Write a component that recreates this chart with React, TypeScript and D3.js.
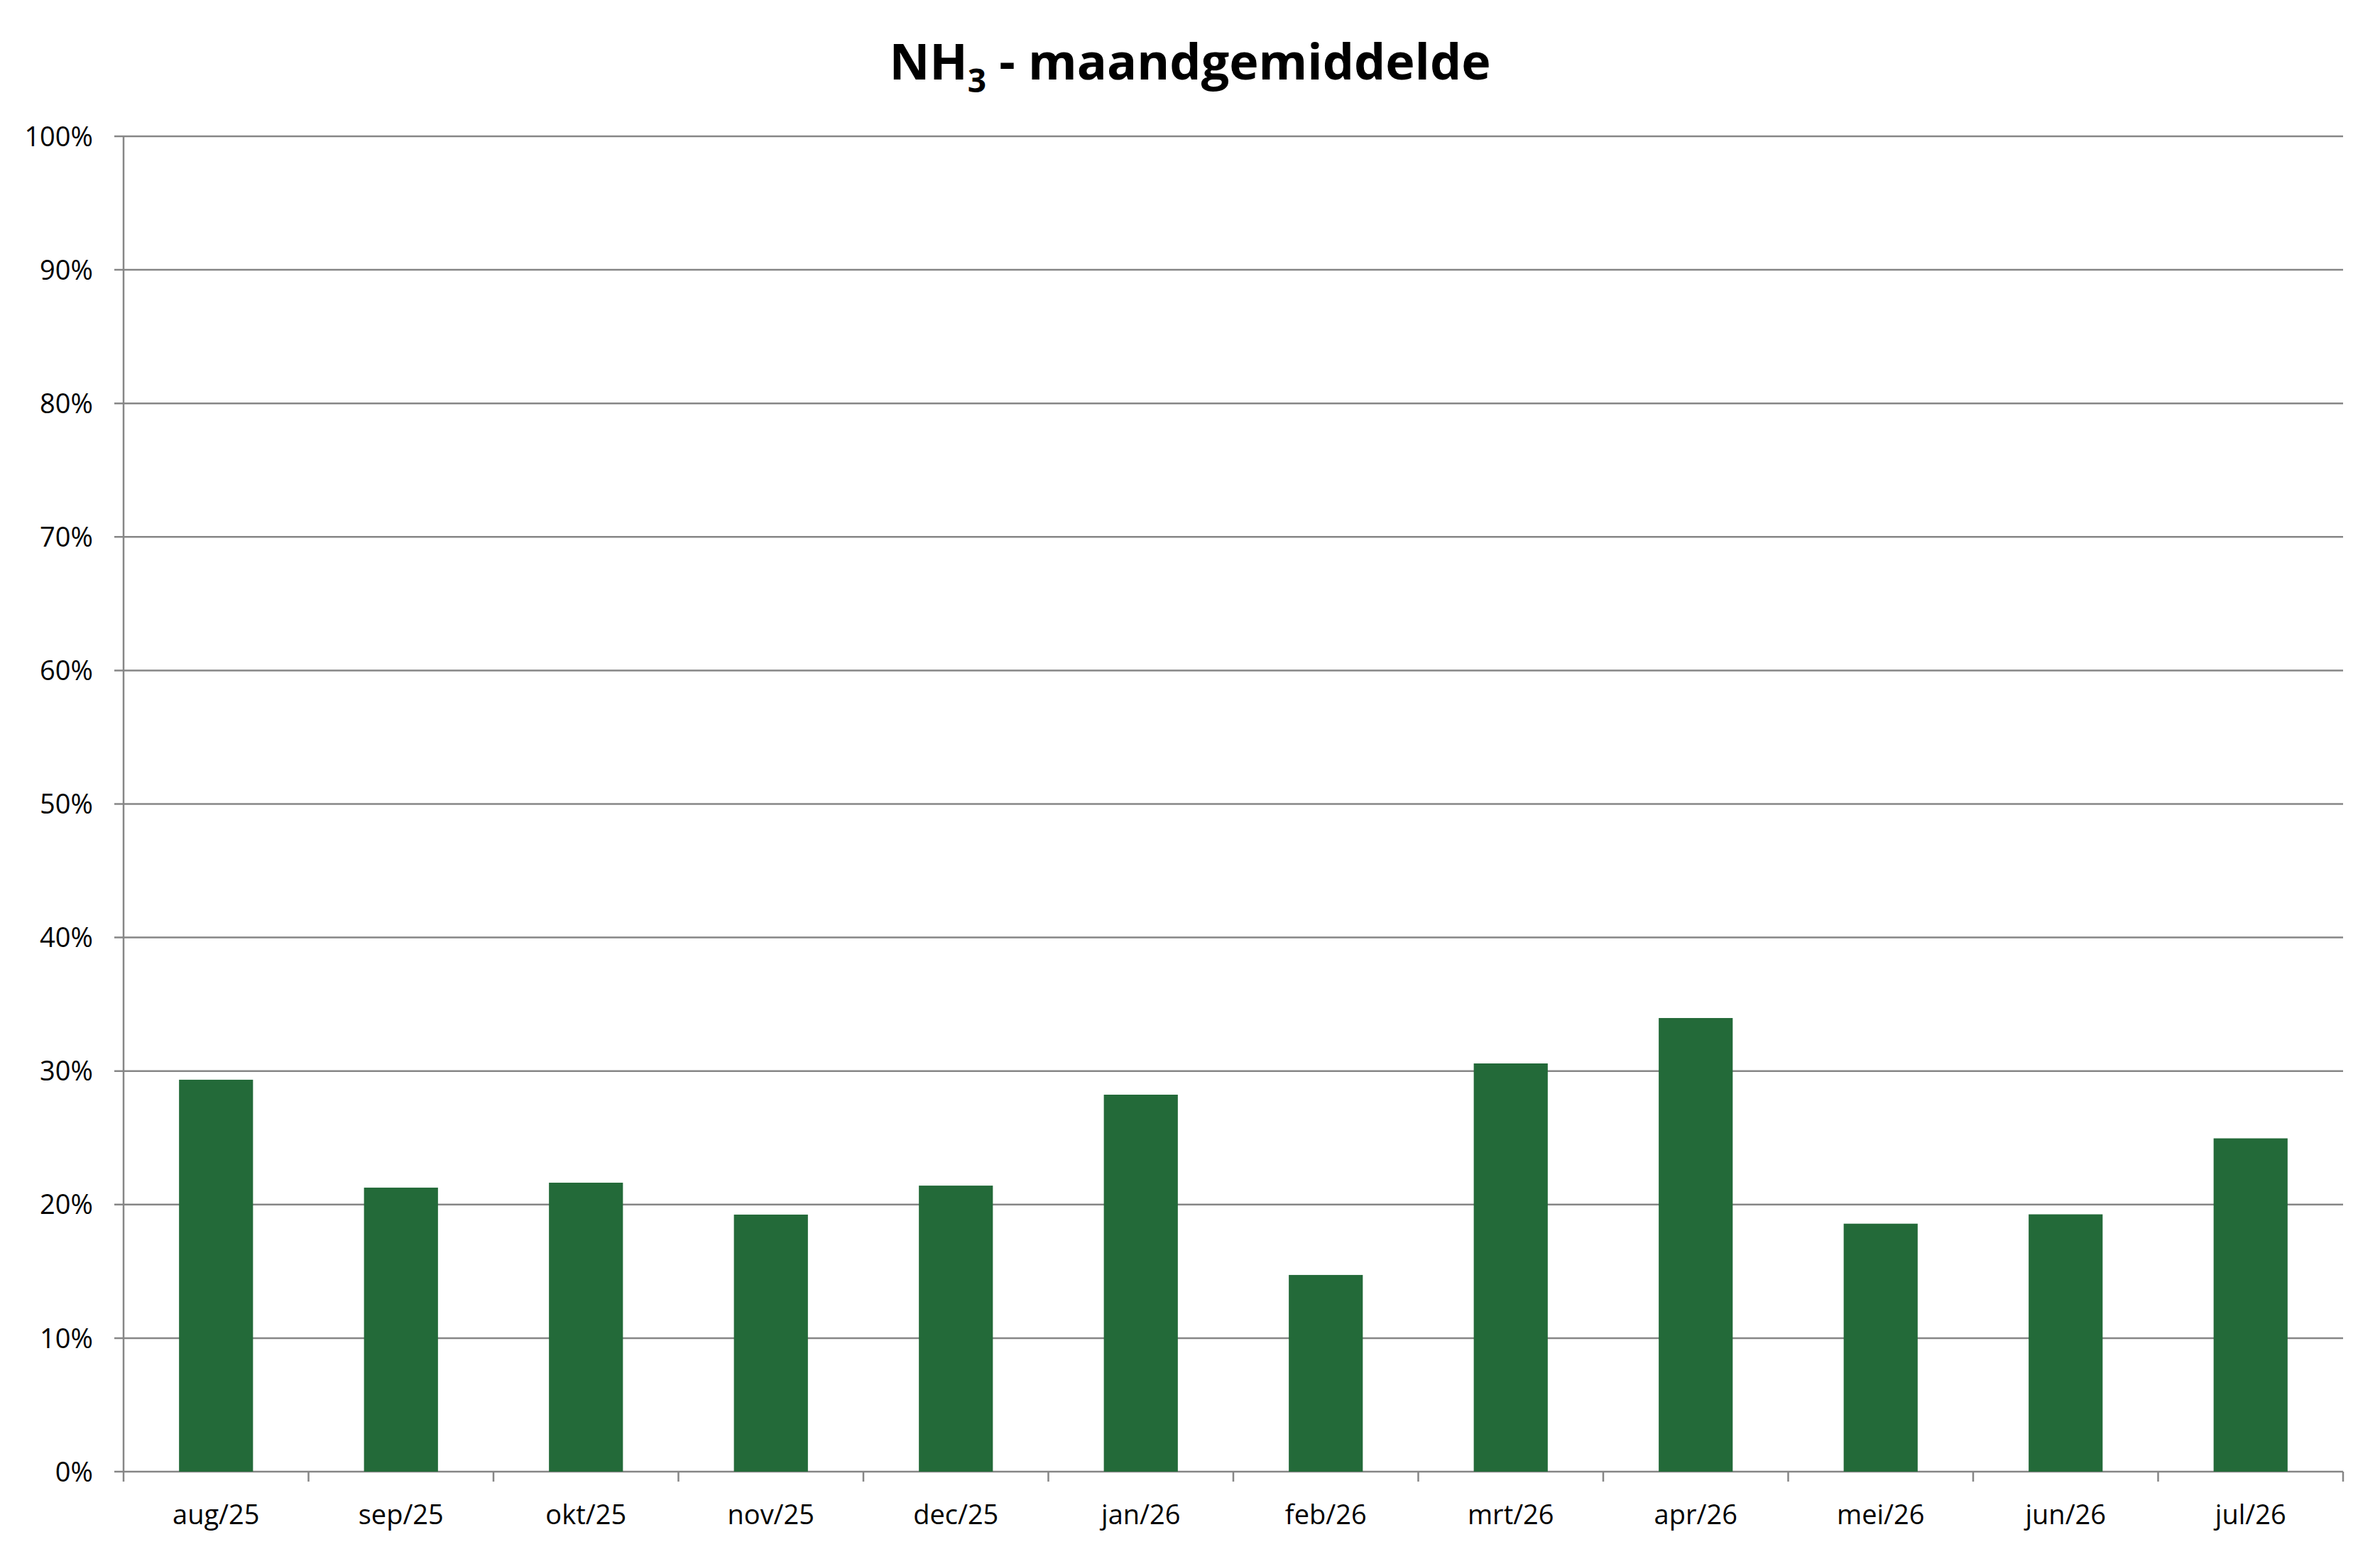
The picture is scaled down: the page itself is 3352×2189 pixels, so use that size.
import React from "react";
import * as d3 from "d3";

const categories = ["aug/25","sep/25","okt/25","nov/25","dec/25","jan/26","feb/26","mrt/26","apr/26","mei/26","jun/26","jul/26"];
const values = [29.35, 21.27, 21.64, 19.25, 21.42, 28.23, 14.73, 30.57, 33.97, 18.57, 19.27, 24.96];
const yTicks = [0, 10, 20, 30, 40, 50, 60, 70, 80, 90, 100];

const W = 3352, H = 2189;
const left = 174, right = 3300, top = 192, bottom = 2073;
const FONT = "'Open Sans', 'Noto Sans', sans-serif";
const GRID = "#868686";
const BAR = "#236A39";

export default function App() {
  const x = d3.scaleBand<string>().domain(categories).range([left, right]).paddingInner(0.6).paddingOuter(0.3);
  const band = d3.scaleBand<string>().domain(categories).range([left, right]);
  const y = d3.scaleLinear().domain([0, 100]).range([bottom, top]);

  return (
    <svg width={W} height={H} style={{ position: "absolute", left: 0, top: 0, background: "#fff" }}>
      <rect x={0} y={0} width={W} height={H} fill="#fff" />
      <text x={1676} y={112} textAnchor="middle" fontFamily={FONT} fontWeight="bold" fontSize={70} fill="#000">
        NH<tspan fontSize={46} dy={18}>3</tspan><tspan dy={-18}> - maandgemiddelde</tspan>
      </text>
      {yTicks.map((t) => (
        <g key={t}>
          <line x1={left - 13} x2={right} y1={y(t)} y2={y(t)} stroke={GRID} strokeWidth={2.5} />
          <text x={131} y={y(t)} dy="0.36em" textAnchor="end" fontFamily={FONT} fontSize={38} fill="#000">{t}%</text>
        </g>
      ))}
      <line x1={left} x2={left} y1={top} y2={bottom} stroke={GRID} strokeWidth={2.5} />
      {categories.map((c, i) => (
        <line key={"t" + c} x1={band(c)!} x2={band(c)!} y1={bottom} y2={bottom + 14} stroke={GRID} strokeWidth={2.5} />
      ))}
      <line x1={right} x2={right} y1={bottom} y2={bottom + 14} stroke={GRID} strokeWidth={2.5} />
      {categories.map((c, i) => (
        <rect key={"b" + c} x={x(c)!} y={y(values[i])} width={x.bandwidth()} height={bottom - y(values[i])} fill={BAR} />
      ))}
      {categories.map((c) => (
        <text key={"l" + c} x={band(c)! + band.bandwidth() / 2} y={2147} textAnchor="middle" fontFamily={FONT} fontSize={38} fill="#000">{c}</text>
      ))}
    </svg>
  );
}
